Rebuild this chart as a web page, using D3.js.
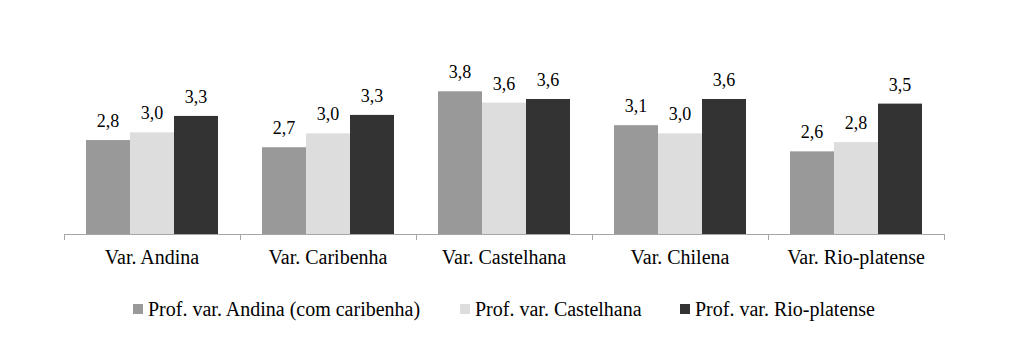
<!DOCTYPE html>
<html>
<head>
<meta charset="utf-8">
<script src="https://cdn.jsdelivr.net/npm/d3@7"></script>
<style>
  body { margin: 0; background: #fff; }
  svg text { fill: #000; }
</style>
</head>
<body>
<div id="chart"></div>
<script>
"use strict";

// categories and series
const categories = ["Var. Andina", "Var. Caribenha", "Var. Castelhana", "Var. Chilena", "Var. Rio-platense"];
const seriesNames = ["Prof. var. Andina (com caribenha)", "Prof. var. Castelhana", "Prof. var. Rio-platense"];
const andinaValues = [2.83, 2.69, 3.78, 3.12, 2.61];
const castelhanaValues = [2.98, 2.96, 3.56, 2.96, 2.79];
const rioValues = [3.30, 3.32, 3.63, 3.63, 3.54];
const seriesValues = [andinaValues, castelhanaValues, rioValues];
const colors = ["#999999", "#dddddd", "#333333"];

const width = 1019, height = 352;
const plot = { left: 64, right: 944, top: 80, bottom: 234 };
const serif = "'Times New Roman', Times, 'Liberation Serif', 'DejaVu Serif', serif";

const svg = d3.select("#chart").append("svg")
    .attr("width", width)
    .attr("height", height)
    .style("font-family", serif);

const x0 = d3.scaleBand()
    .domain(categories)
    .range([plot.left, plot.right]);

// 3 bars, half a bar of space either side
const x1 = d3.scaleBand()
    .domain(d3.range(seriesNames.length))
    .range([0, x0.bandwidth()])
    .paddingInner(0)
    .paddingOuter(0.5);

const y = d3.scaleLinear()
    .domain([1, 4])
    .range([plot.bottom, plot.top]);

const fmt = d3.formatLocale({ decimal: ",", thousands: ".", grouping: [3], currency: ["", ""] }).format(".1f");

// bars
const groups = svg.append("g").selectAll("g")
    .data(categories)
    .join("g")
    .attr("transform", d => "translate(" + x0(d) + ",0)");

groups.selectAll("rect")
    .data((d, i) => seriesValues.map((s, j) => ({ s: j, v: s[i] })))
    .join("rect")
    .attr("x", d => x1(d.s))
    .attr("y", d => y(d.v))
    .attr("width", x1.bandwidth())
    .attr("height", d => y.range()[0] - y(d.v))
    .attr("fill", d => colors[d.s]);

// value labels
groups.selectAll("text")
    .data((d, i) => seriesValues.map((s, j) => ({ s: j, v: s[i] })))
    .join("text")
    .attr("x", d => x1(d.s) + x1.bandwidth() / 2)
    .attr("y", d => y(d.v) - 13)
    .attr("text-anchor", "middle")
    .style("font-family", serif)
    .style("font-size", "18px")
    .text(d => fmt(d.v));

// x axis
const xAxis = svg.append("g")
    .attr("transform", "translate(0," + plot.bottom + ")");

xAxis.append("line")
    .attr("x1", plot.left)
    .attr("x2", plot.right)
    .attr("y1", 0.5)
    .attr("y2", 0.5)
    .attr("stroke", "#a6a6a6");

const tickPos = categories.map(c => x0(c)).concat([plot.right]);
xAxis.selectAll(".tick")
    .data(tickPos)
    .join("line")
    .attr("class", "tick")
    .attr("x1", d => Math.round(d) + 0.5)
    .attr("x2", d => Math.round(d) + 0.5)
    .attr("y1", 0)
    .attr("y2", 6)
    .attr("stroke", "#a6a6a6");

xAxis.selectAll(".cat")
    .data(categories)
    .join("text")
    .attr("class", "cat")
    .attr("x", d => x0(d) + x0.bandwidth() / 2)
    .attr("y", 30)
    .attr("text-anchor", "middle")
    .style("font-family", serif)
    .style("font-size", "20px")
    .text(d => d);

// legend
const legendX = [133, 460, 680];
const legend = svg.append("g")
    .selectAll("g")
    .data(seriesNames)
    .join("g")
    .attr("transform", (d, i) => "translate(" + legendX[i] + ",304)");

legend.append("rect")
    .attr("width", 10)
    .attr("height", 10)
    .attr("fill", (d, i) => colors[i]);

legend.append("text")
    .attr("x", 15)
    .attr("y", 12)
    .style("font-family", serif)
    .style("font-size", "20px")
    .text(d => d);
</script>
</body>
</html>
